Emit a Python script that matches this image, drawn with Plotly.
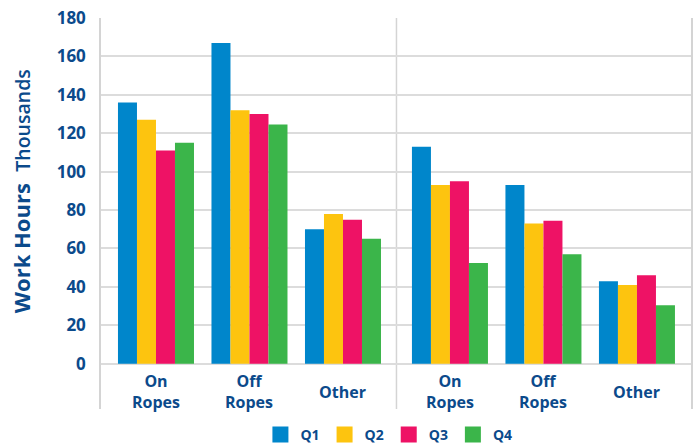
import plotly.graph_objects as go

# ---- data ----
categories = ["On<br>Ropes", "Off<br>Ropes", "Other", "On<br>Ropes", "Off<br>Ropes", "Other"]
halves = [0, 0, 0, 1, 1, 1]
quarters = ["Q1", "Q2", "Q3", "Q4"]
q1 = [136, 167, 70, 113, 93, 43]
q2 = [127, 132, 78, 93, 73, 41]
q3 = [111, 130, 75, 95, 74.5, 46]
q4 = [115, 124.5, 65, 52.5, 57, 30.5]
series = [q1, q2, q3, q4]
colors = ["#0086CB", "#FDC40F", "#EE1265", "#3BB54A"]
y_ticks = [0, 20, 40, 60, 80, 100, 120, 140, 160, 180]

# ---- layout helpers ----
GAP = 0.144  # extra spacing between the two halves (in category units)
per_half = 3
x_pos = []
for h in sorted(set(halves)):
    idx = [i for i, hh in enumerate(halves) if hh == h]
    for j, _ in enumerate(idx):
        x_pos.append(j + h * (per_half + GAP))
separator = (x_pos[2] + x_pos[3]) / 2
x_range = [-0.588, 5.722]

TEXT = "#0b4a8b"
FONT = "Open Sans"
GRID = "#dcdcdc"

fig = go.Figure()
for name, vals, col in zip(quarters, series, colors):
    fig.add_trace(go.Bar(
        x=x_pos, y=vals, name=name, marker=dict(color=col, line=dict(width=0)),
        legendgroup=name, showlegend=False, hoverinfo="x+y+name",
    ))
    fig.add_trace(go.Scatter(
        x=[None], y=[None], name=name, mode="markers", legendgroup=name,
        marker=dict(symbol="square", size=16, color=col),
    ))

# category labels (below zero line, inside plot area)
annotations = []
for xp, lab in zip(x_pos, categories):
    annotations.append(dict(
        x=xp, y=-14.6, xref="x", yref="y", text=lab, showarrow=False,
        xanchor="center", yanchor="middle",
        font=dict(family=FONT, size=16, color=TEXT, weight=700),
    ))

# y-axis title
annotations.append(dict(
    x=-0.135, y=90, xref="paper", yref="y", showarrow=False, textangle=-90,
    xanchor="center", yanchor="middle",
    text="<b>Work Hours</b>  <span style='font-size:19.5px;font-weight:600'>Thousands</span>",
    font=dict(family=FONT, size=22, color=TEXT),
))

fig.update_layout(
    width=699, height=445,
    margin=dict(l=101, r=8, t=18, b=36, autoexpand=False),
    paper_bgcolor="white", plot_bgcolor="white",
    barmode="group", bargap=0.187, bargroupgap=0,
    font=dict(family=FONT, color=TEXT),
    showlegend=True,
    legend=dict(
        orientation="h", x=0.488, xanchor="center", y=-0.066, yanchor="middle",
        font=dict(family=FONT, size=14, color=TEXT, weight=700),
        itemwidth=30, tracegroupgap=0, itemsizing="trace",
    ),
    annotations=annotations,
    shapes=[dict(type="line", xref="x", yref="paper", x0=separator, x1=separator,
                 y0=0, y1=1, line=dict(color="#d4d4d4", width=1.5), layer="below")],
    xaxis=dict(range=x_range, showticklabels=False, showgrid=False, zeroline=False,
               ticks="", showline=False, fixedrange=True),
    yaxis=dict(range=[-23.58, 180], tickvals=y_ticks, showgrid=True, gridcolor=GRID,
               gridwidth=1.5, zeroline=False, showline=True, mirror=True,
               linecolor="#d4d4d4", linewidth=1.5, ticks="", ticklabelstandoff=10,
               tickfont=dict(family=FONT, size=17, color=TEXT, weight=700)),
)

fig.write_html("out.html", config={"displayModeBar": False},
               post_script="document.body.style.margin='0';")
